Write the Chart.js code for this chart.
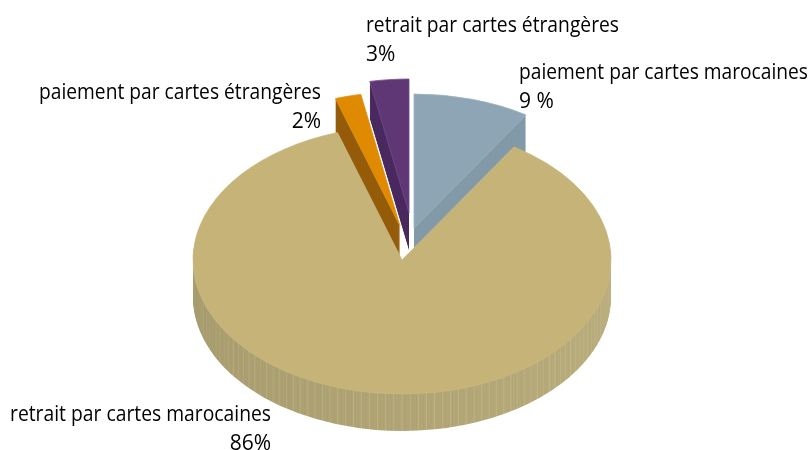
<!DOCTYPE html>
<html>
<head>
<meta charset="utf-8">
<style>
  html, body { margin: 0; padding: 0; background: #fff; }
  canvas { display: block; }
</style>
<script src="https://cdn.jsdelivr.net/npm/chart.js@4"></script>
</head>
<body>
<canvas id="chart1" width="811" height="450"></canvas>
<script>
var categories = ['paiement par cartes marocaines', 'retrait par cartes marocaines', 'paiement par cartes étrangères', 'retrait par cartes étrangères'];
var shares = [9, 86, 2, 3];
var shareLabels = ['9 %', '86%', '2%', '3%'];

var topColors = ['#8ea5b5', '#c5b378', '#df8a00', '#5f3775'];
var edgeColors = ['#9fb3c1', '#c9b981', '#e29515', '#6f4c87'];
var wallColors = ['#8299a8', null, '#955c0a', '#4a2a60'];

// where the pie sits on the page, and how it is tilted
var centerX = 402, centerY = 260, radius = 209, tilt = 0.641, depth = 37;
// exploded slices, pixels on the page
var pulls = [[12, -32], [0, 0], [-2, -34], [7, -47]];
// far slices first, the big one goes over them
var drawOrder = [0, 3, 2, 1];
// x, y, align, maxWidth
var labelSpots = [
  [519, 79, 'left', 289],
  [271, 421, 'right', 261],
  [321, 99, 'right', 282],
  [366, 32, 'left', 253]
];
var shareX = [519, 271, 321, 366];

function stripes(ctx, x, y) {
  var grad = ctx.createConicGradient(0, x, y);
  var steps = 1440;
  for (var i = 0; i < steps; i++) {
    var a = i / steps * 360;
    var t = a <= 180 ? a / 180 : (360 - a) / 180;
    var bump = i % 9 === 0 ? 14 : (i % 4 === 0 ? -4 : 0);
    var r = Math.round(188 - 22 * t + bump);
    var g = Math.round(175 - 20 * t + bump);
    var b = Math.round(127 - 18 * t + bump);
    grad.addColorStop(i / steps, 'rgb(' + r + ',' + g + ',' + b + ')');
  }
  return grad;
}

function drawArc(ctx, arc, dx, dy, fill, border) {
  var saved = arc.options;
  arc.options = Object.assign({}, saved, {
    backgroundColor: fill,
    borderColor: border,
    borderWidth: border === 'transparent' ? 0 : 1
  });
  ctx.save();
  ctx.translate(centerX + dx, centerY + dy);
  ctx.scale(1, tilt);
  ctx.translate(-arc.x, -arc.y);
  arc.draw(ctx);
  ctx.restore();
  arc.options = saved;
}

var pie3d = {
  id: 'pie3d',
  beforeDatasetsDraw: function(chart) {
    var ctx = chart.ctx;
    var arcs = chart.getDatasetMeta(0).data;
    drawOrder.forEach(function(i) {
      var arc = arcs[i];
      var wall = wallColors[i] || stripes(ctx, arc.x, arc.y);
      for (var d = depth; d > 0; d--) {
        drawArc(ctx, arc, pulls[i][0], pulls[i][1] + d, wall, 'transparent');
      }
      drawArc(ctx, arc, pulls[i][0], pulls[i][1], topColors[i], edgeColors[i]);
    });
    return false;
  },
  afterDraw: function(chart) {
    var ctx = chart.ctx;
    ctx.save();
    ctx.fillStyle = '#000';
    ctx.font = '21px "Open Sans"';
    ctx.textBaseline = 'alphabetic';
    categories.forEach(function(name, i) {
      var spot = labelSpots[i];
      ctx.textAlign = spot[2];
      ctx.fillText(name, spot[0], spot[1], spot[3]);
      ctx.fillText(shareLabels[i], shareX[i], spot[1] + 29);
    });
    ctx.restore();
  }
};

new Chart('chart1', {
  type: 'pie',
  data: {
    labels: categories,
    datasets: [{
      data: shares,
      backgroundColor: topColors,
      borderWidth: 0
    }]
  },
  options: {
    responsive: false,
    animation: false,
    radius: radius,
    plugins: {
      legend: { display: false },
      tooltip: { enabled: false }
    }
  },
  plugins: [pie3d]
});
</script>
</body>
</html>
